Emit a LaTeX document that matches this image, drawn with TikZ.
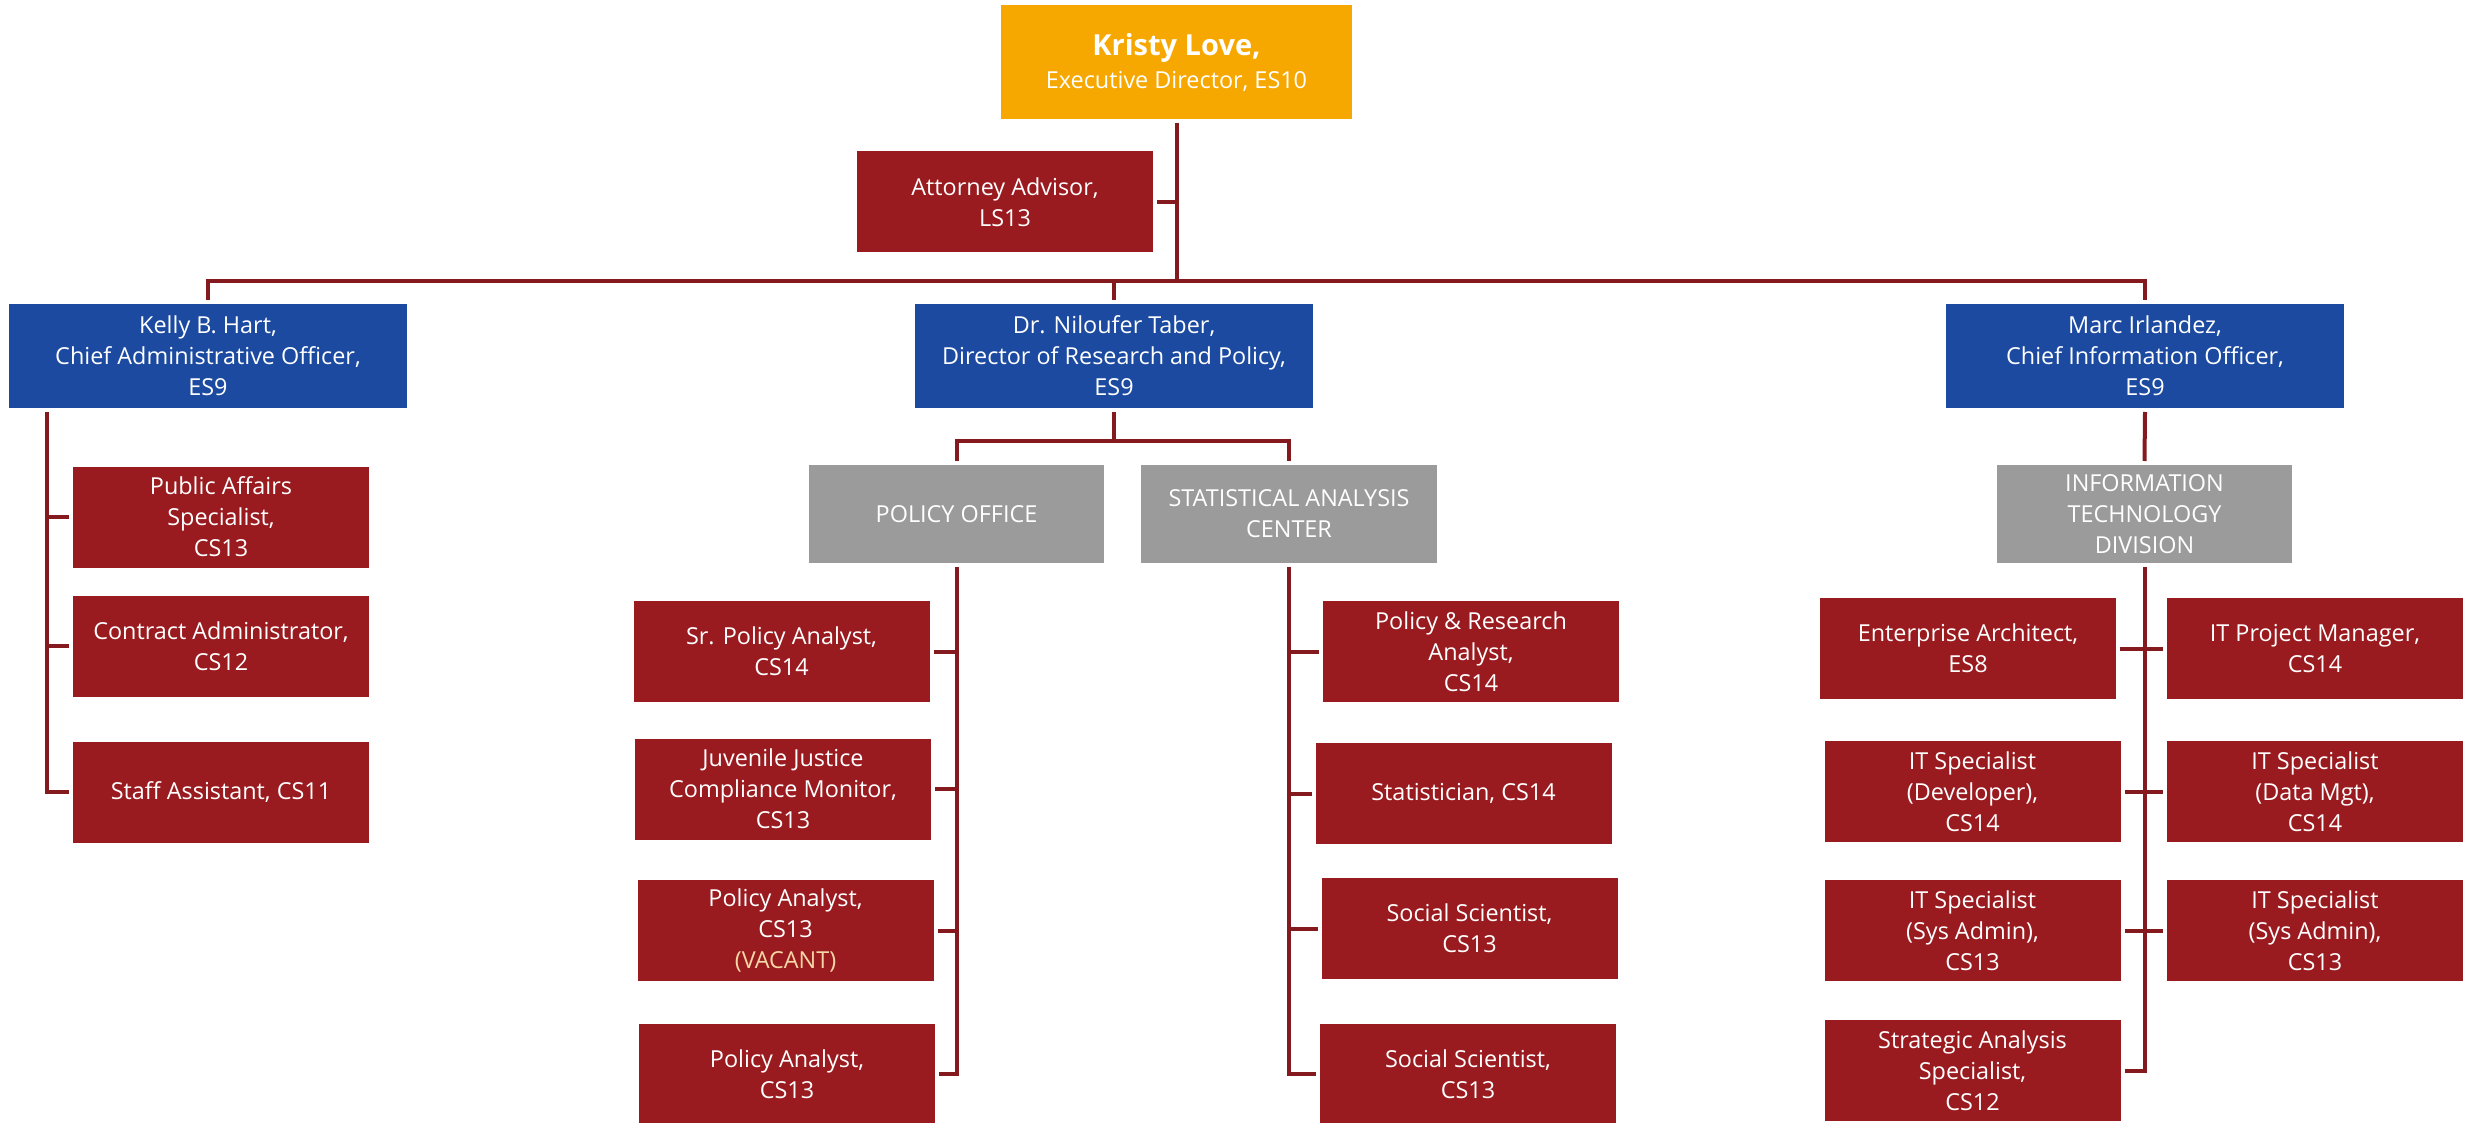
\documentclass[tikz,border=0pt]{standalone}
\usepackage{fontspec}
\setmainfont{Open Sans}
\definecolor{boxred}{HTML}{9A1B1F}
\definecolor{boxblue}{HTML}{1B4AA0}
\definecolor{boxorange}{HTML}{F7A800}
\definecolor{boxgray}{HTML}{9B9B9B}
\definecolor{linered}{HTML}{841A1E}
\definecolor{vacant}{HTML}{F6D7A7}
\begin{document}
\begin{tikzpicture}[x=0.5pt,y=-0.5pt,
  box/.style={inner sep=0pt, outer sep=2pt, align=center, text=white,
    font=\fontsize{11.7}{15.5}\selectfont, minimum width=148pt, minimum height=50.5pt},
  redbox/.style={box, fill=boxred},
  bluebox/.style={box, fill=boxblue, minimum width=199pt, minimum height=52pt},
  graybox/.style={box, fill=boxgray, minimum width=147.5pt, minimum height=49pt},
  topbox/.style={box, fill=boxorange, minimum width=175.5pt, minimum height=57pt},
  conn/.style={draw=linered, line width=2pt}]
\useasboundingbox (0,0) rectangle (2474,1123);

% top level
\node[topbox] (kristy) at (1176.5,62) {{\fontsize{14.5}{18}\selectfont\bfseries Kristy Love,}\\[1pt]Executive Director, ES10};
\node[redbox] (att) at (1005,202) {Attorney Advisor,\\LS13};

% directors
\node[bluebox] (kelly) at (208,356) {Kelly B. Hart,\\Chief Administrative Officer,\\ES9};
\node[bluebox] (nil) at (1114,356) {Dr. Niloufer Taber,\\Director of Research and Policy,\\ES9};
\node[bluebox] (marc) at (2145,356) {Marc Irlandez,\\Chief Information Officer,\\ES9};

% Kelly's staff
\node[redbox] (pa) at (221,517) {Public Affairs\\Specialist,\\CS13};
\node[redbox] (ca) at (221,646) {Contract Administrator,\\CS12};
\node[redbox] (sa) at (221,792) {Staff Assistant, CS11};

% offices
\node[graybox] (po) at (956.5,514) {POLICY OFFICE};
\node[graybox, minimum width=148pt] (sac) at (1289,514) {STATISTICAL ANALYSIS\\CENTER};
\node[graybox] (itd) at (2144.5,514) {INFORMATION\\TECHNOLOGY\\DIVISION};

% policy office staff
\node[redbox] (spa) at (781.5,651.5) {Sr. Policy Analyst,\\CS14};
\node[redbox] (jj) at (783,789) {Juvenile Justice\\Compliance Monitor,\\CS13};
\node[redbox] (pav) at (785.5,930.5) {Policy Analyst,\\CS13\\{\color{vacant}(VACANT)}};
\node[redbox] (pa2) at (787,1074) {Policy Analyst,\\CS13};

% statistical analysis center staff
\node[redbox] (pra) at (1471,651.5) {Policy \& Research\\Analyst,\\CS14};
\node[redbox] (stat) at (1463.5,793.5) {Statistician, CS14};
\node[redbox] (ss1) at (1469.5,928.5) {Social Scientist,\\CS13};
\node[redbox] (ss2) at (1468,1074) {Social Scientist,\\CS13};

% IT division staff
\node[redbox] (ea) at (1968,648.5) {Enterprise Architect,\\ES8};
\node[redbox] (ipm) at (2315,648.5) {IT Project Manager,\\CS14};
\node[redbox] (itdev) at (1972.5,791.5) {IT Specialist\\(Developer),\\CS14};
\node[redbox] (itdm) at (2315,791.5) {IT Specialist\\(Data Mgt),\\CS14};
\node[redbox] (itsa1) at (1972.5,930.5) {IT Specialist\\(Sys Admin),\\CS13};
\node[redbox] (itsa2) at (2315,930.5) {IT Specialist\\(Sys Admin),\\CS13};
\node[redbox] (sas) at (1972.5,1070.5) {Strategic Analysis\\Specialist,\\CS12};

% junction levels
\coordinate (h1) at (0,281);
\coordinate (h2) at (0,441);
\coordinate (ks) at (47,0);

% top connectors
\draw[conn] (kristy.south) -- (kristy.south |- h1);
\draw[conn] (att.east) -- (att.east -| kristy.south);
\draw[conn] (kelly.north) -- (kelly.north |- h1) -- (marc.north |- h1) -- (marc.north);
\draw[conn] (nil.north) -- (nil.north |- h1);

% Kelly
\draw[conn] (kelly.south -| ks) -- (sa.west -| ks) -- (sa.west);
\draw[conn] (pa.west -| ks) -- (pa.west);
\draw[conn] (ca.west -| ks) -- (ca.west);

% Niloufer
\draw[conn] (nil.south) -- (nil.south |- h2);
\draw[conn] (po.north) -- (po.north |- h2) -- (sac.north |- h2) -- (sac.north);

% Policy office
\draw[conn] (po.south) -- (po.south |- pa2.east) -- (pa2.east);
\draw[conn] (spa.east -| po.south) -- (spa.east);
\draw[conn] (jj.east -| po.south) -- (jj.east);
\draw[conn] (pav.east -| po.south) -- (pav.east);

% Statistical analysis center
\draw[conn] (sac.south) -- (sac.south |- ss2.west) -- (ss2.west);
\draw[conn] (pra.west -| sac.south) -- (pra.west);
\draw[conn] (stat.west -| sac.south) -- (stat.west);
\draw[conn] (ss1.west -| sac.south) -- (ss1.west);

% IT
\draw[conn] (marc.south) -- (itd.north);
\draw[conn] (itd.south) -- (itd.south |- sas.east) -- (sas.east);
\draw[conn] (ea.east) -- (ipm.west);
\draw[conn] (itdev.east) -- (itdm.west);
\draw[conn] (itsa1.east) -- (itsa2.west);
\end{tikzpicture}
\end{document}
